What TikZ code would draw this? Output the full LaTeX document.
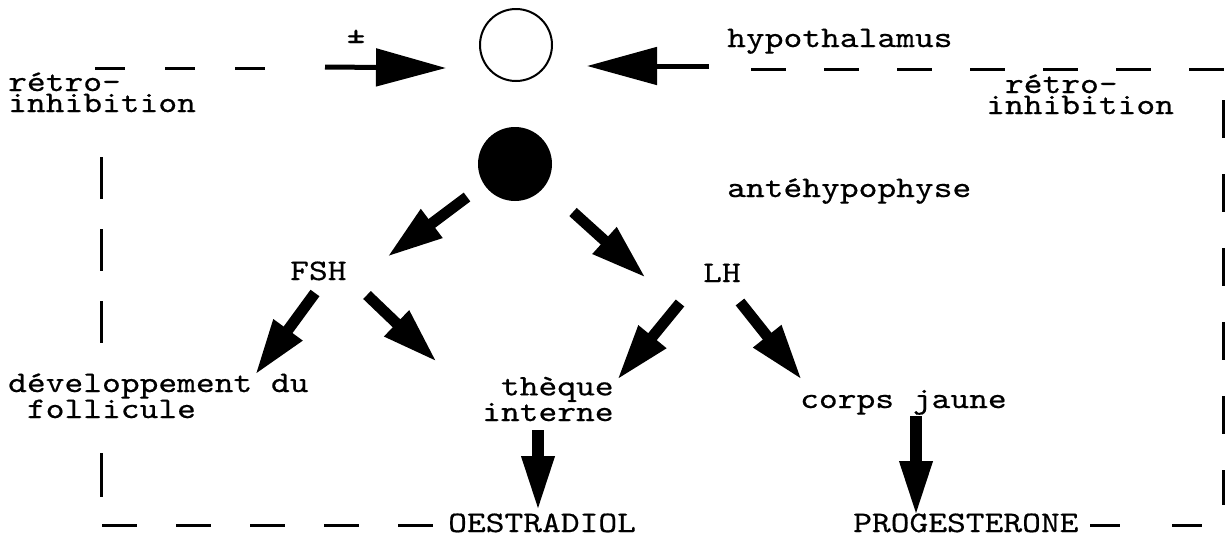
\documentclass[tikz,border=0pt]{standalone}
\usepackage{fontspec}
\usetikzlibrary{arrows.meta}
% typewriter face, widened to the pitch of the labels
\newfontfamily\tw[FakeStretch=1.2,FakeBold=0.5]{lmmono10-regular.otf}
\begin{document}
\begin{tikzpicture}[x=1pt,y=-1pt,
  lbl/.style={font=\tw\fontsize{29.8}{21}\selectfont, inner sep=0pt, text=black},
  fat/.style={line width=11pt, -{Triangle[length=56pt,width=33pt]}},
  drop/.style={line width=12pt, -{Triangle[length=56pt,width=30pt]}},
  slim/.style={line width=5pt, -{Triangle[length=70pt,width=37pt]}},
  feedback/.style={line width=3pt},
]
\useasboundingbox[fill=white] (0,0) rectangle (1230,547);

% glands
\node[circle, draw, line width=2pt, minimum size=72pt, inner sep=0pt] (hyp) at (516,45) {};
\node[circle, fill=black, minimum size=74pt, inner sep=0pt] (ante) at (515,164) {};

% labels (multi-line labels are placed by the baseline of their last line)
\node[lbl, anchor=base] (pm) at (356,43) {±};
\node[lbl, anchor=base west] (hypo) at (727,47) {hypothalamus};
\node[lbl, anchor=base west] (antel) at (727,197) {antéhypophyse};
\node[lbl, anchor=base west, align=left] (retroL) at (8,112) {rétro-\\inhibition};
\node[lbl, anchor=base west, align=left] (retroR) at (986,114) {\phantom{x}rétro-\\inhibition};
\node[lbl, anchor=base west] (fsh) at (290,280) {FSH};
\node[lbl, anchor=base west] (lh) at (703,282) {LH};
\node[lbl, anchor=base west, align=left] (dev) at (8,418) {développement du\\\phantom{x}follicule};
\node[lbl, anchor=base west, align=left] (theque) at (482,421) {\phantom{x}thèque\\interne};
\node[lbl, anchor=base west] (corps) at (800,408) {corps jaune};
\node[lbl, anchor=base west] (oestr) at (448,532) {OESTRADIOL};
\node[lbl, anchor=base west] (proges) at (853,532) {PROGESTERONE};

% arrow ends
\coordinate (inL) at (325,67);   \coordinate (tipL) at (446,68);
\coordinate (inR) at (709,66);   \coordinate (tipR) at (587,66);
\coordinate (a1) at (467,197);   \coordinate (b1) at (387,257);
\coordinate (a2) at (573,212);   \coordinate (b2) at (646,278);
\coordinate (a3) at (315,293);   \coordinate (b3) at (255,375);
\coordinate (a4) at (367,295);   \coordinate (b4) at (437,362);
\coordinate (a5) at (680,303);   \coordinate (b5) at (617,380);
\coordinate (a6) at (740,302);   \coordinate (b6) at (802,380);
\coordinate (a7) at (538,430);   \coordinate (b7) at (538,512);
\coordinate (a8) at (916,416);   \coordinate (b8) at (916,517);

% stimulation arrows
\draw[slim] (inL) -- (tipL);
\draw[slim] (inR) -- (tipR);
\draw[fat] (a1) -- (b1);
\draw[fat] (a2) -- (b2);
\draw[fat] (a3) -- (b3);
\draw[fat] (a4) -- (b4);
\draw[fat] (a5) -- (b5);
\draw[fat] (a6) -- (b6);
\draw[drop] (a7) -- (b7);
\draw[drop] (a8) -- (b8);

% feedback loops
\coordinate (l0) at (95,68);    \coordinate (l1) at (285,68);
\coordinate (lv0) at (101,157); \coordinate (lv1) at (101,343);
\coordinate (lv2) at (101,453); \coordinate (lv3) at (101,497);
\coordinate (lb0) at (102,525); \coordinate (lb1) at (435,525);
\coordinate (r0) at (751,69);   \coordinate (r1) at (1226,69);
\coordinate (rv0) at (1223,100); \coordinate (rv1) at (1223,505);
\coordinate (rb0) at (1090,525); \coordinate (rb1) at (1206,525);

\draw[feedback, dash pattern=on 30pt off 40pt] (l0) -- (l1);
\draw[feedback, dash pattern=on 42pt off 30pt] (lv0) -- (lv1);
\draw[feedback] (lv2) -- (lv3);
\draw[feedback, dash pattern=on 35pt off 39pt] (lb0) -- (lb1);
\draw[feedback, dash pattern=on 35pt off 38pt] (r0) -- (r1);
\draw[feedback, dash pattern=on 38pt off 36pt] (rv0) -- (rv1);
\draw[feedback, dash pattern=on 30pt off 52pt] (rb0) -- (rb1);
\end{tikzpicture}
\end{document}
